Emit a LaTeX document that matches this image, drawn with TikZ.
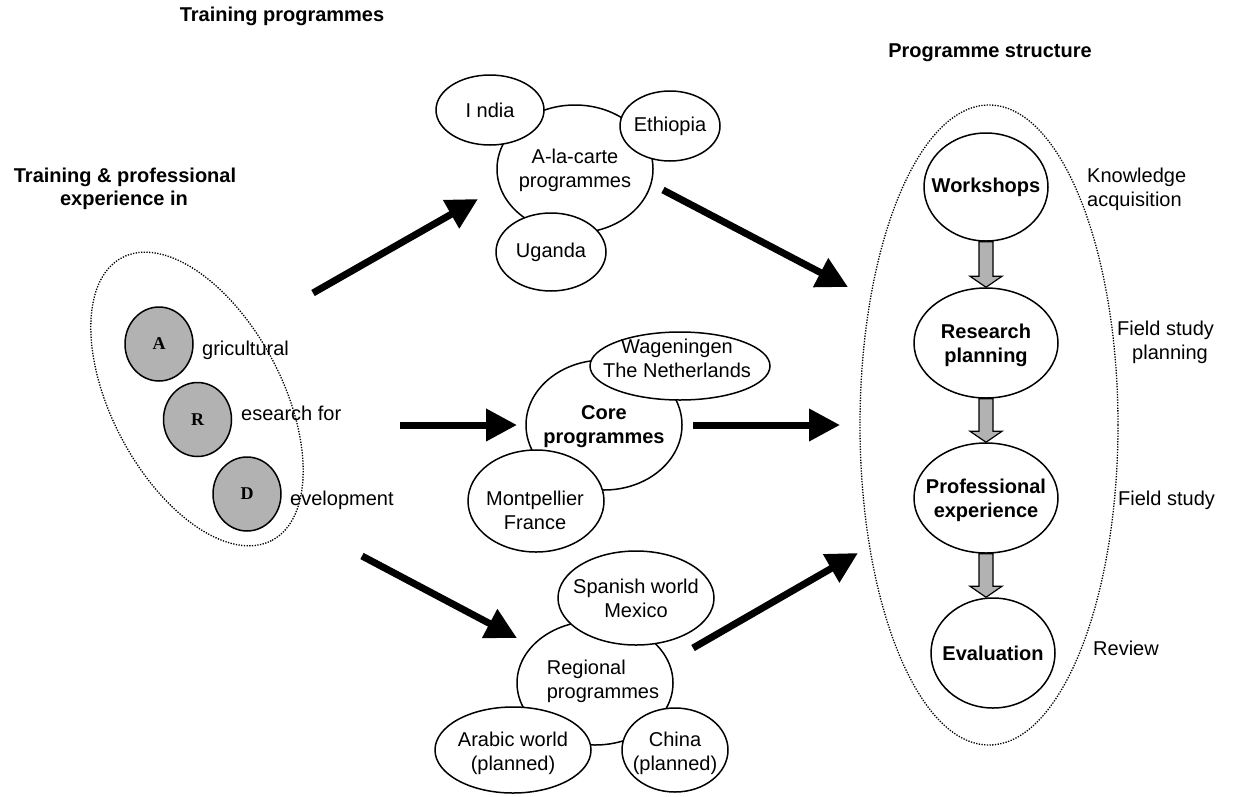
\documentclass[tikz,border=0pt]{standalone}
\usepackage{fontspec}
\setmainfont{Liberation Sans}
\newfontfamily\ardfont{Liberation Serif}
\usetikzlibrary{shapes.geometric,arrows.meta,calc}
\newcommand{\garr}[2]{%
  \draw[garrow] ($(#1.south)+(-7,0)$) -- ($(#1.south |- #2.north)+(-7,-11)$)
    -- ($(#1.south |- #2.north)+(-16,-11)$) -- (#1.south |- #2.north)
    -- ($(#1.south |- #2.north)+(16,-11)$) -- ($(#1.south |- #2.north)+(7,-11)$)
    -- ($(#1.south)+(7,0)$) -- cycle;}
\begin{document}
\begin{tikzpicture}[x=1pt,y=-1pt,
  txt/.style={font=\fontsize{20}{24}\selectfont, align=center, inner sep=0pt},
  txtb/.style={font=\fontsize{20}{24}\selectfont\bfseries, align=center, inner sep=0pt},
  hd/.style={font=\fontsize{20}{23}\selectfont\bfseries, inner sep=0pt},
  bub/.style={draw, ellipse, line width=1.5pt, fill=white, inner sep=0pt},
  letterc/.style={draw, ellipse, line width=1.5pt, fill=black!30, inner sep=0pt,
     minimum width=68pt, minimum height=74pt, font=\ardfont\bfseries\fontsize{18}{20}\selectfont},
  dots/.style={draw, ellipse, inner sep=0pt, line width=1.3pt, dash pattern=on 1.3pt off 1.4pt},
  big/.style={line width=7pt, -{Triangle[length=31pt,width=31pt]}},
  garrow/.style={line width=1.2pt, fill=black!30, line join=miter}
]
\useasboundingbox (0,0) rectangle (1234,796);

% dotted group outlines
\node[dots, minimum width=320pt, minimum height=170pt, rotate=-62] (ard) at (197,399) {};
\node[dots, minimum width=258pt, minimum height=640pt] (ps) at (989,425) {};

% headings
\node[hd, anchor=base] (h1a) at (125,182) {Training \& professional};
\node[hd, anchor=base] (h1b) at (124,205) {experience in};
\node[hd, anchor=base] (h2) at (282,21) {Training programmes};
\node[hd, anchor=base] (h3) at (990,57) {Programme structure};

% A R D
\node[letterc] (A) at (159,344) {A};
\node[letterc] (R) at (197.5,419.5) {R};
\node[letterc] (D) at (247,494) {D};
\node[txt, anchor=base west] (Al) at (202,355) {gricultural};
\node[txt, anchor=base west] (Rl) at (241,420) {esearch for};
\node[txt, anchor=base west] (Dl) at (290,505) {evelopment};

% a-la-carte cluster
\node[bub, minimum width=156pt, minimum height=128pt] (ala) at (575,169) {};
\node[txt] (alaT) at (575,170) {A-la-carte\\programmes};
\node[bub, minimum width=108pt, minimum height=70pt] (ind) at (490,110) {};
\node[txt] (indT) at (ind) {I ndia};
\node[bub, minimum width=100pt, minimum height=70pt] (eth) at (670,126) {};
\node[txt] (ethT) at (eth) {Ethiopia};
\node[bub, minimum width=110pt, minimum height=78pt] (uga) at (551,252) {};
\node[txt] (ugaT) at (uga) {Uganda};

% core cluster
\node[bub, minimum width=156pt, minimum height=130pt] (core) at (604,425) {};
\node[txtb] (coreT) at (604,427) {Core\\programmes};
\node[bub, minimum width=180pt, minimum height=68pt] (wag) at (680,366) {};
\node[txt] (wagT) at (677,358) {Wageningen\\The Netherlands};
\node[bub, minimum width=136pt, minimum height=102pt] (mon) at (536,501) {};
\node[txt] (monT) at (535,510) {Montpellier\\France};

% regional cluster
\node[bub, minimum width=156pt, minimum height=124pt] (reg) at (595,683) {};
\node[txt, align=left] (regT) at (603,681) {Regional\\programmes};
\node[bub, minimum width=156pt, minimum height=94pt] (spa) at (636,598) {};
\node[txt] (spaT) at (spa) {Spanish world\\Mexico};
\node[bub, minimum width=156pt, minimum height=86pt] (ara) at (513,750) {};
\node[txt] (araT) at (513,753) {Arabic world\\(planned)};
\node[bub, minimum width=106pt, minimum height=84pt] (chi) at (675,750) {};
\node[txt] (chiT) at (675,753) {China\\(planned)};

% programme structure
\node[bub, minimum width=124pt, minimum height=108pt] (ws) at (986,187) {};
\node[txtb] (wsT) at (ws) {Workshops};
\node[bub, minimum width=144pt, minimum height=110pt] (rp) at (986,343) {};
\node[txtb] (rpT) at (986,345) {Research\\planning};
\node[bub, minimum width=144pt, minimum height=110pt] (pe) at (986,498) {};
\node[txtb] (peT) at (986,500) {Professional\\experience};
\node[bub, minimum width=124pt, minimum height=110pt] (ev) at (993,653) {};
\node[txtb] (evT) at (ev) {Evaluation};
\garr{ws}{rp}
\garr{rp}{pe}
\garr{pe}{ev}

% side labels
\node[txt, anchor=base west] (k1) at (1087,182) {Knowledge};
\node[txt, anchor=base west] (k2) at (1087,206) {acquisition};
\node[txt, anchor=base west] (f1) at (1117,335) {Field study};
\node[txt, anchor=base] (f2) at (1170,359) {planning};
\node[txt, anchor=base west] (f3) at (1118,505) {Field study};
\node[txt, anchor=base west] (rv) at (1093,655) {Review};

% thick arrows
\coordinate (a1s) at (313,293); \coordinate (a1e) at (478,199);
\coordinate (a2s) at (663,190); \coordinate (a2e) at (848,287);
\coordinate (a3s) at (400,425); \coordinate (a3e) at (517,425);
\coordinate (a4s) at (693,425); \coordinate (a4e) at (840,425);
\coordinate (a5s) at (362,556); \coordinate (a5e) at (517,638);
\coordinate (a6s) at (693,648); \coordinate (a6e) at (858,553);
\draw[big] (a1s) -- (a1e);
\draw[big] (a2s) -- (a2e);
\draw[big] (a3s) -- (a3e);
\draw[big] (a4s) -- (a4e);
\draw[big] (a5s) -- (a5e);
\draw[big] (a6s) -- (a6e);
\end{tikzpicture}
\end{document}
